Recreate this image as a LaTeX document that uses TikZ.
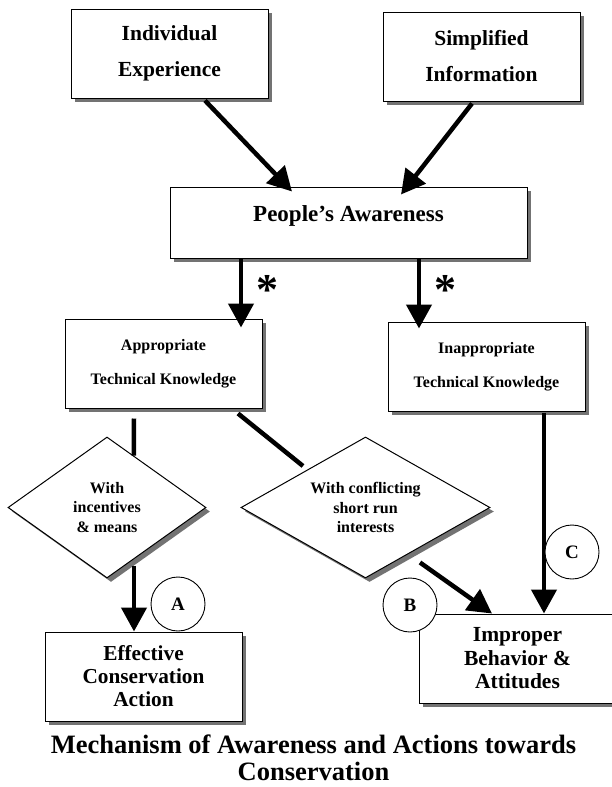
\documentclass[tikz,border=0pt]{standalone}
\usepackage{fontspec}
\setmainfont{Liberation Serif}
\usetikzlibrary{arrows.meta,shapes.geometric,shadows,calc}
\begin{document}
\begin{tikzpicture}[x=1pt,y=-1pt,
  shad/.style={drop shadow={shadow xshift=4pt,shadow yshift=-4pt,fill=black!55,opacity=1}},
  box/.style={rectangle,draw=black,line width=1pt,fill=white,inner sep=0pt,align=center,
    minimum width=197pt,minimum height=89pt,shad},
  dia/.style={diamond,draw=black,line width=1pt,fill=white,inner sep=0pt,align=center,
    shape aspect=1.4,minimum height=141pt,shad,font=\bfseries\fontsize{16}{19.5}\selectfont},
  circ/.style={circle,draw=black,line width=0.9pt,fill=white,inner sep=0pt,minimum size=54pt,
    font=\bfseries\fontsize{19}{19}\selectfont},
  arr/.style={line width=4.5pt,-{Triangle[width=25pt,length=24pt]}},
  ln/.style={line width=4.5pt},
  bigtxt/.style={font=\bfseries\fontsize{21.5}{36}\selectfont},
  smalltxt/.style={font=\bfseries\fontsize{16}{34}\selectfont},
  startxt/.style={font=\bfseries\fontsize{44}{44}\selectfont,inner sep=0pt}]
\useasboundingbox (0,0) rectangle (611,787);

% boxes
\node[box,bigtxt] (ie) at (169.5,53.5) {Individual\\Experience};
\node[box,bigtxt] (si) at (481.5,56.5) {Simplified\\Information};
\node[box,minimum width=357pt,minimum height=71pt,
  font=\bfseries\fontsize{23}{28}\selectfont,text height=16pt,text depth=19pt] (pa) at (348.5,222.5) {People’s Awareness};
\node[box,smalltxt] (ap) at (163.5,363.5) {Appropriate\\Technical Knowledge};
\node[box,smalltxt] (inap) at (486.5,366.5) {Inappropriate\\Technical Knowledge};
\node[dia,minimum width=198pt] (ld) at (107,507.5) {With\\incentives\\\& means};
\node[dia,minimum width=249pt] (rd) at (365.5,507.5) {With conflicting\\short run\\interests};
\node[box,font=\bfseries\fontsize{21.3}{23}\selectfont] (eff) at (143.5,676.5) {Effective\\Conservation\\Action};
\node[box,font=\bfseries\fontsize{21.5}{23.5}\selectfont] (imp) at (517.5,658.5) {Improper\\Behavior \&\\Attitudes};

% connectors
\draw[arr] ([xshift=35.5pt,yshift=-2pt]ie.south) -- ([xshift=-56.5pt,yshift=-5pt]pa.north);
\draw[arr] ([xshift=-9.5pt,yshift=-2pt]si.south) -- ([xshift=52.5pt,yshift=-8pt]pa.north);
\draw[arr] ([xshift=-107.5pt]pa.south) -- ([xshift=77.5pt,yshift=-9pt]ap.north);
\draw[arr] ([xshift=70.5pt]pa.south) -- ([xshift=-67.5pt,yshift=-7pt]inap.north);
\node[startxt] (s1) at (267,290) {*};
\node[startxt] (s2) at (445,290) {*};
\draw[ln] ([xshift=-29.5pt,yshift=-10pt]ap.south) -- ($(ld.north)!0.27!(ld.east)$);
\draw[ln] ([xshift=74.5pt,yshift=-5pt]ap.south) -- ($($(rd.west)!0.5!(rd.north)$)+(0,-6)$);
\draw[arr] ($(ld.south)+(27,-13)$) -- ([xshift=-9.5pt]eff.north);
\draw[arr] ($(rd.south)+(54.5,-16)$) -- ([xshift=-25.5pt]imp.north);
\draw[arr] ([xshift=57.5pt,yshift=-1pt]inap.south) -- ([xshift=26.5pt]imp.north);

% circled letters
\node[circ] (ca) at (178,604) {A};
\node[circ] (cb) at (410,605) {B};
\node[circ] (cc) at (572,552) {C};

% title
\node[font=\bfseries\fontsize{26.5}{27}\selectfont,align=center,inner sep=0pt] (title) at (313.5,757.5)
  {Mechanism of Awareness and Actions towards\\Conservation};
\end{tikzpicture}
\end{document}
